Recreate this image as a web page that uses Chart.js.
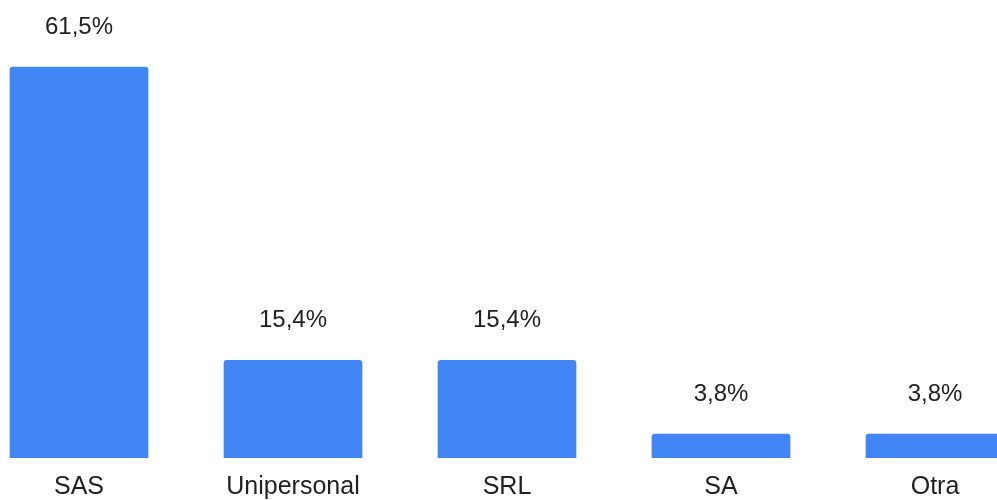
<!DOCTYPE html>
<html>
<head>
<meta charset="utf-8">
<script src="https://cdn.jsdelivr.net/npm/chart.js@4"></script>
<style>
  html, body { margin: 0; padding: 0; background: #fff; overflow: hidden; }
  #wrap { position: absolute; left: -28px; top: 0; width: 1070px; height: 500px; }
</style>
</head>
<body>
<div id="wrap"><canvas id="chart"></canvas></div>
<script>
const categories = ["SAS", "Unipersonal", "SRL", "SA", "Otra"];
const values = [61.5, 15.4, 15.4, 3.8, 3.8];
const valueLabels = ["61,5%", "15,4%", "15,4%", "3,8%", "3,8%"];

// draw the percent text above every bar
const barLabels = {
  id: "barLabels",
  afterDatasetsDraw(chart) {
    const { ctx } = chart;
    ctx.save();
    ctx.font = "24px 'Liberation Sans', Arial, sans-serif";
    ctx.fillStyle = "#212121";
    ctx.textAlign = "center";
    ctx.textBaseline = "alphabetic";
    chart.getDatasetMeta(0).data.forEach((bar, i) => {
      ctx.fillText(valueLabels[i], bar.x, bar.y - 33);
    });
    ctx.restore();
  }
};

new Chart(document.getElementById("chart").getContext("2d"), {
  type: "bar",
  data: {
    labels: categories,
    datasets: [{
      data: values,
      backgroundColor: "#4285F4",
      borderRadius: 3,
      borderSkipped: "bottom",
      categoryPercentage: 1,
      barPercentage: 0.648
    }]
  },
  options: {
    responsive: true,
    maintainAspectRatio: false,
    animation: false,
    layout: { padding: 0 },
    plugins: {
      legend: { display: false },
      tooltip: { enabled: false }
    },
    scales: {
      x: {
        grid: { display: false },
        border: { display: false },
        ticks: {
          color: "#212121",
          font: { family: "'Liberation Sans', Arial, sans-serif", size: 25 },
          padding: 6,
          maxRotation: 0,
          autoSkip: false
        },
        afterFit(scale) { scale.height = 42; }
      },
      y: {
        display: false,
        min: 0,
        max: 72
      }
    }
  },
  plugins: [barLabels]
});
</script>
</body>
</html>
